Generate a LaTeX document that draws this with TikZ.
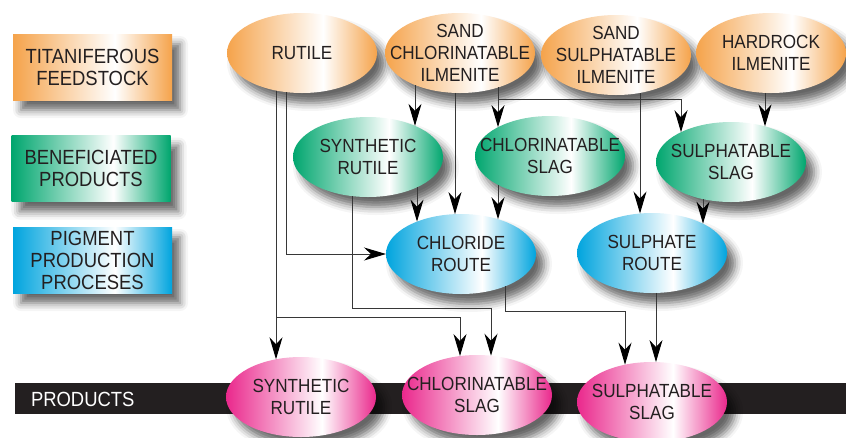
\documentclass[tikz,border=0pt]{standalone}
\usepackage{fontspec}
\setmainfont{Liberation Sans}[FakeStretch=0.9]
\usetikzlibrary{shapes.geometric,arrows.meta,calc,shadows.blur}
\definecolor{orng}{RGB}{245,163,75}
\definecolor{grn}{RGB}{0,166,110}
\definecolor{blu}{RGB}{0,164,222}
\definecolor{pnk}{RGB}{234,40,140}
\definecolor{txt}{RGB}{35,31,32}
\definecolor{linec}{RGB}{55,55,55}
\pgfdeclarehorizontalshading{oshade}{100bp}{color(0bp)=(orng); color(25bp)=(orng); color(57bp)=(white); color(75bp)=(orng); color(100bp)=(orng)}
\pgfdeclarehorizontalshading{gshade}{100bp}{color(0bp)=(grn); color(25bp)=(grn); color(57bp)=(white); color(75bp)=(grn); color(100bp)=(grn)}
\pgfdeclarehorizontalshading{bshade}{100bp}{color(0bp)=(blu); color(25bp)=(blu); color(57bp)=(white); color(75bp)=(blu); color(100bp)=(blu)}
\pgfdeclarehorizontalshading{pshade}{100bp}{color(0bp)=(pnk); color(25bp)=(pnk); color(57bp)=(white); color(75bp)=(pnk); color(100bp)=(pnk)}
\newcommand\bp[4]{\coordinate (#1) at ($(#2.center)+(#3,{#4*40*sqrt(1-((#3)/75)^2)})$);}
\tikzset{
  base/.style={font=\fontsize{19}{22}\selectfont, text=txt, align=center, inner sep=0pt, outer sep=0pt},
  shad/.style={blur shadow={shadow xshift=8pt, shadow yshift=-10pt, shadow blur radius=8pt, shadow opacity=60}},
  ell/.style={base, shad, ellipse, minimum width=150pt, minimum height=80pt, inner xsep=-40pt, inner ysep=-25pt},
  feed/.style={ell, shading=oshade},
  bene/.style={ell, shading=gshade},
  proc/.style={ell, shading=bshade},
  prod/.style={ell, shading=pshade},
  leg/.style={base, shad, rectangle, minimum width=159pt, minimum height=66pt, font=\fontsize{20.5}{22}\selectfont},
  conn/.style={draw=linec, line width=1pt, -{Stealth[length=22pt,width=13pt,inset=7pt,color=black]}},
}
\begin{document}
\begin{tikzpicture}[x=1pt,y=-1pt]
\useasboundingbox (0,0) rectangle (846,437);
% legend
\node[leg, shading=oshade] (l1) at (92.5,67) {TITANIFEROUS\\FEEDSTOCK};
\node[leg, shading=gshade] (l2) at (91,168.5) {BENEFICIATED\\PRODUCTS};
\node[leg, shading=bshade] (l3) at (92.5,260) {PIGMENT\\PRODUCTION\\PROCESES};
% feedstock
\node[feed] (rut) at (302,53) {RUTILE};
\node[feed] (sci) at (460,53) {SAND\\CHLORINATABLE\\ILMENITE};
\node[feed] (ssi) at (616,55) {SAND\\SULPHATABLE\\ILMENITE};
\node[feed] (hri) at (771,53) {HARDROCK\\ILMENITE};
% beneficiated
\node[bene] (gsr) at (368,157) {SYNTHETIC\\RUTILE};
\node[bene] (gcs) at (550,156) {CHLORINATABLE\\SLAG};
\node[bene] (gss) at (731,162) {SULPHATABLE\\SLAG};
% processes
\node[proc] (cr) at (461,254) {CHLORIDE\\ROUTE};
\node[proc] (sr) at (652,253) {SULPHATE\\ROUTE};
% products bar
\node[fill=txt, minimum width=831pt, minimum height=31pt, inner sep=0pt, outer sep=0pt, anchor=north west] (bar) at (15,383) {};
\node[base, text=white, anchor=west, font=\fontsize{20.5}{22}\selectfont] (prl) at (31,399.5) {PRODUCTS};
\node[prod] (psr) at (301,397) {SYNTHETIC\\RUTILE};
\node[prod] (pcs) at (477,395) {CHLORINATABLE\\SLAG};
\node[prod] (pss) at (652,402) {SULPHATABLE\\SLAG};
% connector end points
\bp{a1}{rut}{-26}{1} \bp{a2}{psr}{-25}{-1}
\bp{a3}{rut}{-16}{1}
\bp{b2}{pcs}{-17}{-1}
\coordinate (j1) at (276,317);
\bp{c1}{sci}{-45}{1} \bp{c2}{gsr}{47}{-1}
\bp{c3}{sci}{-5}{1} \bp{c4}{cr}{-6}{-1}
\bp{c5}{sci}{38}{1} \bp{c6}{gcs}{-52}{-1}
\coordinate (j2) at (498,99);
\bp{c7}{gss}{-50}{-1}
\bp{d1}{gsr}{49}{1} \bp{d2}{cr}{-44}{-1}
\bp{d3}{gsr}{-16}{1} \bp{d4}{pcs}{14}{-1}
\coordinate (j3) at (352,308);
\bp{e1}{gcs}{-52}{1} \bp{e2}{cr}{37}{-1}
\bp{f1}{ssi}{24}{1} \bp{f2}{sr}{-12}{-1}
\bp{g1}{hri}{-6}{1} \bp{g2}{gss}{34}{-1}
\bp{h1}{gss}{-28}{1} \bp{h2}{sr}{51}{-1}
\bp{k1}{cr}{44}{1} \bp{k2}{pss}{-27}{-1}
\coordinate (j4) at (505,311);
\bp{m1}{sr}{4}{1} \bp{m2}{pss}{4}{-1}
% connectors
\draw[conn] (a1) -- (a2);
\draw[conn] (j1) -| (b2);
\draw[conn] (a3) |- (cr.west);
\draw[conn] (c1) -- (c2);
\draw[conn] (c3) -- (c4);
\draw[conn] (c5) -- (c6);
\draw[conn] (j2) -| (c7);
\draw[conn] (d1) -- (d2);
\draw[conn] (d3) -- (j3) -| (d4);
\draw[conn] (e1) -- (e2);
\draw[conn] (f1) -- (f2);
\draw[conn] (g1) -- (g2);
\draw[conn] (h1) -- (h2);
\draw[conn] (k1) -- (j4) -| (k2);
\draw[conn] (m1) -- (m2);
\end{tikzpicture}
\end{document}
